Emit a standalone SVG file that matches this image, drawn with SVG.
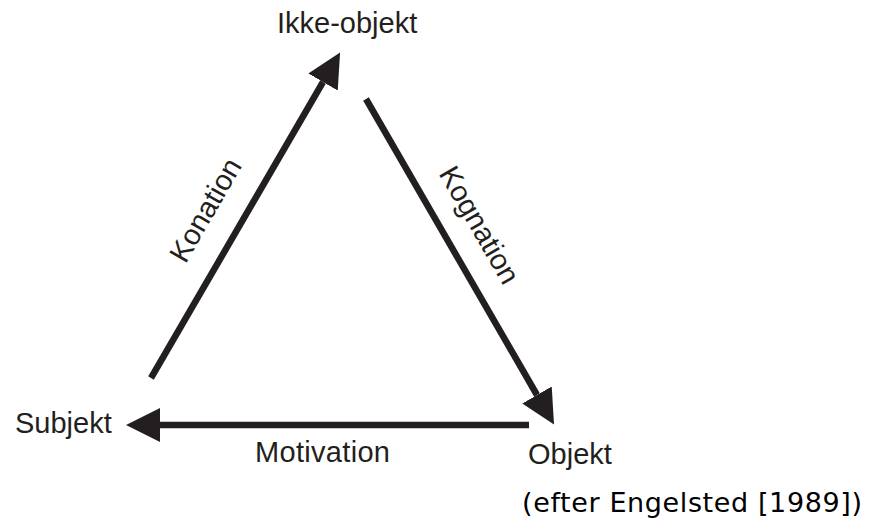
<svg xmlns="http://www.w3.org/2000/svg" width="876" height="524" viewBox="0 0 876 524">
<style>
.lbl{font-family:"Liberation Sans",Arial,sans-serif;font-size:29px;fill:#231f20}
.src{font-family:"DejaVu Sans",Verdana,sans-serif;font-size:27px;fill:#000}
.arr{stroke:#231f20;stroke-width:6.5;fill:none;marker-end:url(#ah)}
</style>
<defs>
<marker id="ah" markerUnits="userSpaceOnUse" markerWidth="34" markerHeight="34" viewBox="0 0 34 34" refX="0" refY="17" orient="auto">
<path d="M0,0 L34,17 L0,34 z" fill="#231f20"/>
</marker>
</defs>
<rect width="876" height="524" fill="#fff"/>
<g id="connectors">
<line class="arr" x1="151" y1="378" x2="323" y2="82"/>
<line class="arr" x1="366" y1="99" x2="537" y2="395"/>
<line class="arr" x1="529" y1="425" x2="160" y2="425"/>
</g>
<g id="ikke-objekt"><text class="lbl" x="277" y="33">Ikke-objekt</text></g>
<g id="subjekt"><text class="lbl" x="15" y="433">Subjekt</text></g>
<g id="objekt"><text class="lbl" x="528" y="464">Objekt</text></g>
<g id="konation"><text class="lbl" text-anchor="middle" transform="translate(214,215) rotate(-60)">Konation</text></g>
<g id="kognation"><text class="lbl" text-anchor="middle" transform="translate(471,230) rotate(60)">Kognation</text></g>
<g id="motivation"><text class="lbl" x="255" y="462" textLength="135">Motivation</text></g>
<g id="source"><text class="src" x="522" y="512" textLength="340">(efter Engelsted [1989])</text></g>
</svg>
